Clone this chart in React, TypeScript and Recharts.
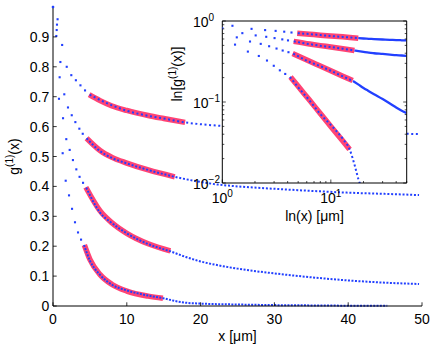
import { ComposedChart, Line, XAxis, YAxis, CartesianGrid } from 'recharts'

const FONT = '"Liberation Sans", Arial, Helvetica, sans-serif'
const BLUE = '#2240ff'
const RED = '#ff4474'

// sparse samples near the origin (each dot)
const earlyAx = [0, 0.62, 1.24, 1.86, 2.48, 3.1, 3.72, 4.34]
const earlyAy = [1.0, 0.959, 0.873, 0.8, 0.772, 0.755, 0.738, 0.721]
const earlyBx = [0, 0.54, 1.0, 1.53, 2.03, 2.54, 3.03, 3.57, 4.03]
const earlyBy = [1.0, 0.941, 0.816, 0.708, 0.664, 0.638, 0.615, 0.593, 0.576]
const earlyCx = [0, 0.5, 0.9, 1.36, 1.8, 2.26, 2.7, 3.16, 3.6, 4.07]
const earlyCy = [1.0, 0.923, 0.765, 0.628, 0.558, 0.522, 0.488, 0.457, 0.432, 0.412]
const earlyDx = [0, 0.45, 0.81, 1.31, 1.72, 2.17, 2.58, 2.98, 3.39, 3.8]
const earlyDy = [1.0, 0.903, 0.693, 0.511, 0.419, 0.37, 0.325, 0.28, 0.246, 0.222]

// rest of each curve (dense dots, drawn as a dotted stroke)
const lateAx = [4.96, 6.38, 8, 10, 12.9, 15, 17.9, 20, 22.4, 25, 30, 35, 40, 45, 49.6]
const lateAy = [0.707, 0.689, 0.671, 0.653, 0.636, 0.627, 0.614, 0.608, 0.603, 0.598, 0.591, 0.586, 0.582, 0.578, 0.575]
const lateBx = [4.55, 6.38, 8, 10, 12.9, 15, 16.5, 18, 20, 22.4, 25, 30, 35, 40, 45, 49.6]
const lateBy = [0.561, 0.518, 0.495, 0.477, 0.455, 0.441, 0.432, 0.424, 0.415, 0.406, 0.4, 0.392, 0.385, 0.379, 0.375, 0.371]
const lateCx = [4.5, 6.38, 8, 10, 12.9, 16, 18, 20, 22, 25, 30, 35, 40, 45, 49.6]
const lateCy = [0.396, 0.312, 0.277, 0.243, 0.207, 0.182, 0.164, 0.149, 0.138, 0.125, 0.109, 0.096, 0.0855, 0.078, 0.0735]
const lateDx = [4.2, 5, 6.38, 8, 10, 12.9, 14.9, 16.7, 18, 20, 25, 30, 35, 40, 45.3]
const lateDy = [0.204, 0.152, 0.104, 0.071, 0.052, 0.035, 0.026, 0.016, 0.011, 0.008, 0.005, 0.003, 0.002, 0.001, 0.0005]

// power-law fits (red)
const fitAx = [4.9, 6.38, 8, 10, 12.9, 15, 17.9]
const fitAy = [0.707, 0.687, 0.669, 0.654, 0.637, 0.627, 0.614]
const fitBx = [4.55, 6.38, 8, 10, 12.9, 16.5]
const fitBy = [0.561, 0.52, 0.497, 0.478, 0.455, 0.432]
const fitCx = [4.45, 6.38, 8, 10, 12.9, 15.9]
const fitCy = [0.397, 0.318, 0.278, 0.243, 0.208, 0.184]
const fitDx = [4.25, 5, 6.38, 8, 10, 12.9, 14.9]
const fitDy = [0.204, 0.156, 0.105, 0.072, 0.05, 0.033, 0.026]

const mainXTicks = [0, 10, 20, 30, 40, 50]
const mainYTicks = [0, 0.1, 0.2, 0.3, 0.4, 0.5, 0.6, 0.7, 0.8, 0.9]
const logXTicks = [1, 2, 3, 4, 5, 6, 7, 8, 9, 10, 20, 30, 40, 50]
const logYTicks = [0.01, 0.02, 0.03, 0.04, 0.05, 0.06, 0.07, 0.08, 0.09, 0.1, 0.2, 0.3, 0.4, 0.5, 0.6, 0.7, 0.8, 0.9, 1]

const pts = (xs: number[], ys: number[]) => xs.map((x, i) => ({ x, y: ys[i] }))

const curves = [
  { early: pts(earlyAx, earlyAy), late: pts(lateAx, lateAy), fit: pts(fitAx, fitAy), dash: '2 2.6', cut: 17.9 },
  { early: pts(earlyBx, earlyBy), late: pts(lateBx, lateBy), fit: pts(fitBx, fitBy), dash: '2 1.8', cut: 16.5 },
  { early: pts(earlyCx, earlyCy), late: pts(lateCx, lateCy), fit: pts(fitCx, fitCy), dash: '2 1.5', cut: 16 },
  { early: pts(earlyDx, earlyDy), late: pts(lateDx, lateDy), fit: pts(fitDx, fitDy), dash: '2 1.3', cut: Infinity },
]

const txt = { fontFamily: FONT, fill: '#000' }

const renderDot = (p: any) => {
  if (!isFinite(p.cx) || !isFinite(p.cy)) return <g key={p.index} />
  return <rect key={p.index} x={p.cx - 1.05} y={p.cy - 1.05} width={2.1} height={2.1} fill={BLUE} />
}

const isDecade = (v: number) => Math.abs(Math.log10(v) - Math.round(Math.log10(v))) < 1e-9
const expText = (v: number) => String(Math.round(Math.log10(v))).replace('-', '\u2212')

// main axes, MATLAB style ticks pointing into the plot
const MainXTick = ({ x, y, payload }: any) => (
  <g>
    <line x1={x} x2={x} y1={y} y2={y - 3.7} stroke="#000" strokeWidth={0.8} />
    <text x={x} y={y + 18} textAnchor="middle" fontSize={14} {...txt}>{payload.value}</text>
  </g>
)

const MainYTick = ({ x, y, payload }: any) => (
  <g>
    <line x1={x} x2={x + 3.7} y1={y} y2={y} stroke="#000" strokeWidth={0.8} />
    <text x={x - 3.7} y={y + 5} textAnchor="end" fontSize={14} {...txt}>
      {payload.value === 0 ? '0' : payload.value.toFixed(1)}
    </text>
  </g>
)

const InsetBottomTick = ({ x, y, payload }: any) => {
  const major = isDecade(payload.value)
  return (
    <g>
      <line x1={x} x2={x} y1={y} y2={y - (major ? 3.5 : 2)} stroke="#000" strokeWidth={0.7} />
      {major && (
        <text x={x} y={y + 20.3} textAnchor="middle" fontSize={14} {...txt}>
          10<tspan dy={-6} fontSize={10}>{expText(payload.value)}</tspan>
        </text>
      )}
    </g>
  )
}

const InsetTopTick = ({ x, y, payload }: any) => (
  <line x1={x} x2={x} y1={y} y2={y + (isDecade(payload.value) ? 3.5 : 2)} stroke="#000" strokeWidth={0.7} />
)

const InsetLeftTick = ({ x, y, payload }: any) => {
  const major = isDecade(payload.value)
  return (
    <g>
      <line x1={x} x2={x + (major ? 3.5 : 2)} y1={y} y2={y} stroke="#000" strokeWidth={0.7} />
      {major && (
        <text x={x - 29.3} y={y + 6} textAnchor="start" fontSize={14} {...txt}>
          10<tspan dy={-6} fontSize={10}>{expText(payload.value)}</tspan>
        </text>
      )}
    </g>
  )
}

const InsetRightTick = ({ x, y, payload }: any) => (
  <line x1={x} x2={x - (isDecade(payload.value) ? 3.5 : 2)} y1={y} y2={y} stroke="#000" strokeWidth={0.7} />
)

const mainXLabel = (p: any) => {
  const { x, y, width } = p.viewBox
  return (
    <text x={x + width / 2} y={y + 35} textAnchor="middle" fontSize={14} {...txt}>x [μm]</text>
  )
}

const mainYLabel = (p: any) => {
  const { x, y, height } = p.viewBox
  const cx = x - 4
  const cy = y + height / 2
  return (
    <text x={cx} y={cy} transform={`rotate(-90 ${cx} ${cy})`} textAnchor="middle" fontSize={14} {...txt}>
      g<tspan dy={-6} fontSize={10}>(1)</tspan><tspan dy={6}>(x)</tspan>
    </text>
  )
}

const insetXLabel = (p: any) => {
  const { x, y, width } = p.viewBox
  return (
    <text x={x + width / 2} y={y + 38} textAnchor="middle" fontSize={14} {...txt}>ln(x) [μm]</text>
  )
}

const insetYLabel = (p: any) => {
  const { x, y } = p.viewBox
  const cx = x + 10
  const cy = y + 53
  return (
    <text x={cx} y={cy} transform={`rotate(-90 ${cx} ${cy})`} textAnchor="middle" fontSize={14} {...txt}>
      ln[g<tspan dy={-6} fontSize={10}>(1)</tspan><tspan dy={6}>(x)]</tspan>
    </text>
  )
}

function MainChart() {
  return (
    <ComposedChart width={436} height={348} margin={{ top: 7, right: 14, bottom: 0, left: 23 }}>
      <XAxis
        dataKey="x"
        type="number"
        domain={[0, 50]}
        ticks={mainXTicks}
        interval={0}
        tickSize={0}
        tickMargin={0}
        tickLine={false}
        axisLine={{ stroke: '#000' }}
        height={42}
        tick={(p: any) => <MainXTick {...p} />}
        label={{ content: mainXLabel }}
      />
      <YAxis
        type="number"
        domain={[0, 1]}
        ticks={mainYTicks}
        interval={0}
        tickSize={0}
        tickMargin={0}
        tickLine={false}
        axisLine={{ stroke: '#000' }}
        width={30}
        tick={(p: any) => <MainYTick {...p} />}
        label={{ content: mainYLabel }}
      />
      {curves.map((c, i) => (
        <Line key={`fit${i}`} data={c.fit} dataKey="y" type="monotone" stroke={RED} strokeWidth={5.5}
          strokeLinecap="butt" dot={false} activeDot={false} isAnimationActive={false} />
      ))}
      {curves.map((c, i) => (
        <Line key={`late${i}`} data={c.late} dataKey="y" type="monotone" stroke={BLUE} strokeWidth={2}
          strokeDasharray={c.dash} dot={false} activeDot={false} isAnimationActive={false} />
      ))}
      {curves.map((c, i) => (
        <Line key={`early${i}`} data={c.early} dataKey="y" stroke="none" dot={renderDot}
          activeDot={false} isAnimationActive={false} />
      ))}
    </ComposedChart>
  )
}

function InsetChart() {
  return (
    <ComposedChart width={436} height={348} margin={{ top: 20, right: 28.3, bottom: 125, left: 172.3 }}>
      <CartesianGrid xAxisId="b" yAxisId="l" fill="#fff" stroke="none" horizontal={false} vertical={false} />
      <XAxis
        xAxisId="b"
        dataKey="x"
        type="number"
        scale="log"
        domain={[1, 50]}
        allowDataOverflow
        ticks={logXTicks}
        interval={0}
        tickSize={0}
        tickMargin={0}
        tickLine={false}
        axisLine={{ stroke: '#000' }}
        height={40}
        tick={(p: any) => <InsetBottomTick {...p} />}
        label={{ content: insetXLabel }}
      />
      <XAxis
        xAxisId="t"
        orientation="top"
        type="number"
        scale="log"
        domain={[1, 50]}
        allowDataOverflow
        ticks={logXTicks}
        interval={0}
        tickSize={0}
        tickMargin={0}
        tickLine={false}
        axisLine={{ stroke: '#000' }}
        height={1}
        tick={(p: any) => <InsetTopTick {...p} />}
      />
      <YAxis
        yAxisId="l"
        type="number"
        scale="log"
        domain={[0.01, 1]}
        allowDataOverflow
        ticks={logYTicks}
        interval={0}
        tickSize={0}
        tickMargin={0}
        tickLine={false}
        axisLine={{ stroke: '#000' }}
        width={50}
        tick={(p: any) => <InsetLeftTick {...p} />}
        label={{ content: insetYLabel }}
      />
      <YAxis
        yAxisId="r"
        orientation="right"
        type="number"
        scale="log"
        domain={[0.01, 1]}
        allowDataOverflow
        ticks={logYTicks}
        interval={0}
        tickSize={0}
        tickMargin={0}
        tickLine={false}
        axisLine={{ stroke: '#000' }}
        width={1}
        tick={(p: any) => <InsetRightTick {...p} />}
      />
      {curves.map((c, i) => (
        <Line key={`ifit${i}`} xAxisId="b" yAxisId="l" data={c.fit} dataKey="y" type="monotone" stroke={RED}
          strokeWidth={5.5} strokeLinecap="butt" dot={false} activeDot={false} isAnimationActive={false} />
      ))}
      {curves.map((c, i) => (
        <Line key={`isolid${i}`} xAxisId="b" yAxisId="l" data={c.late.filter((p) => p.x >= c.cut)} dataKey="y"
          type="monotone" stroke={BLUE} strokeWidth={2.3} dot={false} activeDot={false} isAnimationActive={false} />
      ))}
      {curves.map((c, i) => (
        <Line key={`idot${i}`} xAxisId="b" yAxisId="l" data={c.late.filter((p) => p.x <= c.cut)} dataKey="y"
          type="monotone" stroke={BLUE} strokeWidth={2} strokeDasharray="2 2.4" dot={false}
          activeDot={false} isAnimationActive={false} />
      ))}
      {curves.map((c, i) => (
        <Line key={`iearly${i}`} xAxisId="b" yAxisId="l" data={c.early.filter((p) => p.x > 0)} dataKey="y"
          stroke="none" dot={renderDot} activeDot={false} isAnimationActive={false} />
      ))}
    </ComposedChart>
  )
}

export default function App() {
  return (
    <div style={{ position: 'absolute', left: 0, top: 0, width: 436, height: 348, background: '#fff' }}>
      <div style={{ position: 'absolute', left: 0, top: 0 }}>
        <MainChart />
      </div>
      <div style={{ position: 'absolute', left: 0, top: 0 }}>
        <InsetChart />
      </div>
    </div>
  )
}
